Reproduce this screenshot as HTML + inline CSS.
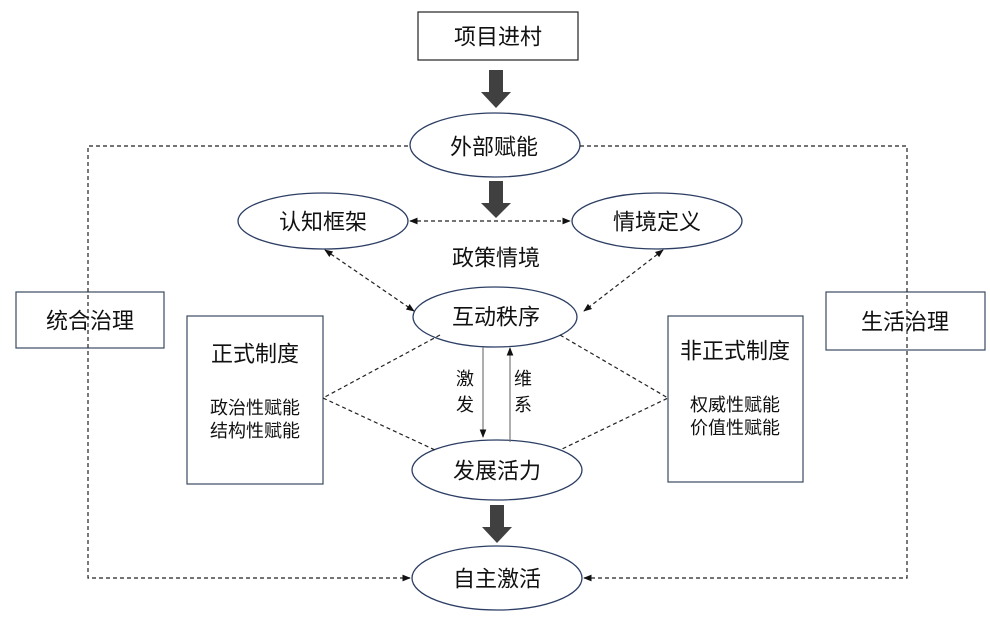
<!DOCTYPE html>
<html><head><meta charset="utf-8"><style>
body{margin:0;background:#fff}
svg text{font-family:"Liberation Sans","Noto Sans CJK SC",sans-serif;fill:#111;text-anchor:middle;dominant-baseline:central}
</style></head><body>
<svg width="990" height="612" viewBox="0 0 990 612" xmlns="http://www.w3.org/2000/svg">
<defs>
<marker id="a" viewBox="0 0 10 10" refX="9" refY="5" markerWidth="7" markerHeight="7" orient="auto-start-reverse"><path d="M0,1 L10,5 L0,9z" fill="#111"/></marker>
</defs>
<g fill="none" stroke="#222" stroke-width="1.2">
<rect x="418" y="12" width="160" height="48"/>
<rect x="16" y="292" width="148" height="56" stroke="#3a4a60"/>
<rect x="826" y="292" width="159" height="58" stroke="#3a4a60"/>
<rect x="187" y="316" width="136" height="168" stroke="#3a4a60"/>
<rect x="668" y="316" width="135" height="166" stroke="#3a4a60"/>
<g stroke="#2c3e64" stroke-width="1.3">
<ellipse cx="495" cy="145" rx="85" ry="32"/>
<ellipse cx="323" cy="221" rx="85" ry="28"/>
<ellipse cx="657" cy="221" rx="85" ry="28"/>
<ellipse cx="495" cy="317" rx="82" ry="30"/>
<ellipse cx="497" cy="470" rx="85" ry="30"/>
<ellipse cx="497" cy="578" rx="85" ry="32"/>
</g>
<g stroke-dasharray="4,3">
<path d="M408,146 H88 V578 H410" marker-end="url(#a)"/>
<path d="M580,146 H907 V578 H584" marker-end="url(#a)"/>
<line x1="410" y1="221" x2="570" y2="221" marker-start="url(#a)" marker-end="url(#a)"/>
<line x1="325" y1="250" x2="414" y2="311" marker-start="url(#a)" marker-end="url(#a)"/>
<line x1="663" y1="250" x2="584" y2="311" marker-start="url(#a)" marker-end="url(#a)"/>
<polyline points="440,335 323,398 435,450"/>
<polyline points="560,335 668,398 560,450"/>
</g>
<line x1="483" y1="347" x2="483" y2="437" stroke="#777" marker-end="url(#a)"/>
<line x1="510" y1="442" x2="510" y2="348" stroke="#777" marker-end="url(#a)"/>
</g>
<g fill="#404040">
<path d="M489,70 H503 V92 H511 L496,108 L481,92 H489z"/>
<path d="M489,181 H503 V203 H511 L496,218 L481,203 H489z"/>
<path d="M490,505 H504 V527 H512 L497,543 L482,527 H490z"/>
</g>
<g font-size="22">
<text x="498" y="37">项目进村</text>
<text x="494" y="147">外部赋能</text>
<text x="323" y="222">认知框架</text>
<text x="657" y="222">情境定义</text>
<text x="496" y="258">政策情境</text>
<text x="496" y="317">互动秩序</text>
<text x="497" y="471">发展活力</text>
<text x="497" y="579">自主激活</text>
<text x="90" y="321">统合治理</text>
<text x="905" y="322">生活治理</text>
<text x="255" y="354">正式制度</text>
<text x="735" y="351">非正式制度</text>
</g>
<g font-size="18">
<text x="255" y="408">政治性赋能</text>
<text x="255" y="431">结构性赋能</text>
<text x="735" y="405">权威性赋能</text>
<text x="735" y="428">价值性赋能</text>
<text x="465" y="379">激</text>
<text x="465" y="405">发</text>
<text x="523" y="379">维</text>
<text x="523" y="405">系</text>
</g>
</svg>
</body></html>
